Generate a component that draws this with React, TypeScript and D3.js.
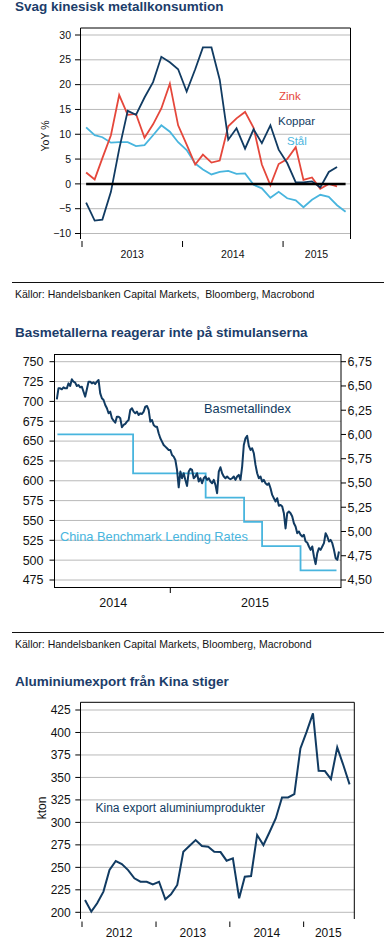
import * as React from "react";
import * as d3 from "d3";

const FONT = "'Liberation Sans', Arial, Helvetica, sans-serif";
const TITLE_COLOR = "#1c3d6a";
const NAVY = "#113b62";
const RED = "#e5473b";
const SKY = "#48b5de";
const GRID = "#b9b9b9";
const SOURCE_COLOR = "#141414";

// --- chart 1: YoY %, monthly, first point Jan 2013
const metalStart = new Date(2013, 0, 16);
const koppar = [-3.8, -7.4, -7.2, -1.6, 7.0, 14.7, 13.9, 17.4, 20.5, 25.6, 24.5, 23.1, 18.6, 23.1, 27.5, 27.5,
  21.0, 8.9, 11.2, 7.1, 11.0, 8.2, 11.8, 6.9, 4.2, 0.3, 0.3, 0.5, -0.7, 2.4, 3.4];
const zink = [2.3, 0.9, 5.2, 9.8, 17.9, 13.9, 14.1, 9.3, 12.0, 15.2, 20.2, 11.8, 7.9, 3.9, 5.9, 4.3,
  4.7, 11.6, 13.2, 14.5, 11.3, 3.9, -0.3, 4.0, 5.0, 7.4, 0.8, 1.3, -1.0, 0.0, -0.5];
const stal = [11.4, 9.8, 9.4, 8.3, 8.4, 8.4, 7.6, 7.8, 9.8, 11.8, 10.5, 8.4, 6.8, 4.1, 2.9, 1.9,
  2.4, 2.6, 2.0, 2.1, -0.2, -0.9, -2.8, -1.6, -2.9, -3.3, -4.7, -3.2, -2.2, -2.6, -4.3, -5.6];
const yoyTicks = [-10, -5, 0, 5, 10, 15, 20, 25, 30];
const years1 = [2013, 2014, 2015];

// --- chart 2: base metal index (left) and lending rate (right)
const basStart = new Date(2014, 6, 2);
const basEnd = new Date(2015, 8, 30);
const basmetall = [702.6, 716.4, 716.4, 715.2, 717.7, 716.4, 716.4, 722.7, 719.4, 727.8,
  724.8, 723.6, 719.4, 720.6, 717.7, 718.5, 712.2, 706.0, 715.2, 724.8,
  724.8, 722.7, 724.0, 721.9, 724.8, 726.9, 710.1, 703.9, 701.8, 695.5,
  691.3, 685.0, 687.1, 678.7, 675.7, 673.2, 680.8, 680.8, 678.7, 667.4,
  670.3, 671.6, 674.5, 676.6, 689.2, 691.3, 687.1, 685.0, 687.1, 682.9,
  685.0, 684.1, 687.1, 693.4, 694.2, 689.2, 674.5, 676.6, 670.3, 668.2,
  668.2, 659.8, 653.5, 649.3, 645.1, 643.0, 640.9, 638.8, 638.8, 632.5,
  630.4, 626.2, 613.7, 591.8, 611.6, 603.2, 609.5, 601.1, 593.5, 611.6,
  615.0, 613.7, 603.2, 605.3, 609.5, 599.0, 603.2, 596.9, 603.2, 605.3,
  601.1, 603.2, 599.0, 596.9, 601.1, 594.8, 584.3, 611.6, 617.0, 609.5,
  605.3, 603.2, 605.3, 603.2, 601.9, 603.2, 605.3, 601.1, 605.3, 607.4,
  601.1, 617.9, 645.1, 653.5, 656.5, 643.9, 638.8, 640.9, 634.6, 620.0,
  609.5, 603.2, 605.3, 599.0, 601.1, 596.9, 594.8, 596.9, 590.6, 582.2,
  578.0, 573.8, 578.0, 568.4, 569.6, 567.5, 559.1, 540.0, 559.1, 561.2,
  559.1, 555.0, 546.5, 542.4, 534.0, 536.1, 531.9, 529.8, 531.9, 523.5,
  522.2, 517.2, 513.0, 517.2, 504.6, 495.0, 508.8, 515.1, 513.0, 517.2,
  521.4, 533.9, 529.8, 523.5, 525.6, 521.4, 513.0, 502.5, 500.4, 510.9];
const rateDates = [new Date(2014, 6, 3), new Date(2014, 10, 2), new Date(2015, 1, 27),
  new Date(2015, 3, 30), new Date(2015, 4, 29), new Date(2015, 6, 30), new Date(2015, 8, 26)];
const rates = [6.0, 5.6, 5.35, 5.1, 4.85, 4.6, 4.6];
const indexTicks = [475, 500, 525, 550, 575, 600, 625, 650, 675, 700, 725, 750];
const rateTicks = [4.5, 4.75, 5.0, 5.25, 5.5, 5.75, 6.0, 6.25, 6.5, 6.75];
const years2 = [2014, 2015];

// --- chart 3: aluminium export, kton, monthly from Jan 2012
const aluStart = new Date(2012, 0, 16);
const aluExport = [213.7, 200.7, 210, 223, 247, 257, 253.7, 247, 237.8, 234,
  234, 231, 234, 214.4, 220, 230.4, 267.4, 274, 280.4, 273.7,
  273, 267.4, 267, 257.4, 260, 215.6, 239.6, 240.4, 286, 274.8,
  289, 304.4, 327.8, 327.8, 331.5, 382.3, 400.9, 421.3, 357.5, 357.1,
  348.2, 383.4, 363.8, 342.3];
const ktonTicks = [200, 225, 250, 275, 300, 325, 350, 375, 400, 425];
const years3 = [2012, 2013, 2014, 2015];

const Title = (p: { y: number; text: string }) => (
  <text x={15} y={p.y} fontSize={13.5} fontWeight="bold" fill={TITLE_COLOR}>{p.text}</text>
);

const Source = (p: { y: number; text: string }) => (
  <g>
    <line x1={12} x2={384} y1={p.y} y2={p.y} stroke="#111" strokeWidth={1} />
    <text x={15} y={p.y + 15} fontSize={10.5} fill={SOURCE_COLOR} style={{ whiteSpace: "pre" }}>{p.text}</text>
  </g>
);

function yearLabels(x: d3.ScaleTime<number, number>, years: number[], axisStart: Date, axisEnd: Date) {
  return years.map((yr) => {
    const a = Math.max(+new Date(yr, 0, 1), +axisStart);
    const b = Math.min(+new Date(yr + 1, 0, 1), +axisEnd);
    return { yr, cx: (x(new Date(a)) + x(new Date(b))) / 2 };
  });
}

function Chart1() {
  const left = 80.5, right = 350.5, top = 28, bottom = 239;
  const axisStart = new Date(2013, 0, 1);
  const axisEnd = new Date(2015, 8, 1);
  const x = d3.scaleTime().domain([axisStart, axisEnd]).range([82, 350]);
  const y = d3.scaleLinear().domain([-10, 30]).range([233.5, 35]);
  const date = (i: number) => d3.timeMonth.offset(metalStart, i);
  const line = d3.line<number>().x((_, i) => x(date(i))).y((d) => y(d));
  const labels = yearLabels(x, years1, axisStart, axisEnd);
  return (
    <g>
      <Title y={11} text="Svag kinesisk metallkonsumtion" />
      {yoyTicks.map((t) => (
        <g key={t}>
          <line x1={left} x2={right} y1={y(t)} y2={y(t)} stroke={GRID} strokeWidth={1} />
          <line x1={75} x2={left} y1={y(t)} y2={y(t)} stroke="#000" strokeWidth={1} />
          <text x={71} y={y(t)} dy="0.35em" textAnchor="end" fontSize={10.5} fill="#111">
            {t < 0 ? "\u2212" + Math.abs(t) : t}
          </text>
        </g>
      ))}
      <path d={`M${left},${bottom}V${top}H${right}V${bottom}`} fill="none" stroke="#000" strokeWidth={1} />
      <text transform={`translate(45,136) rotate(-90)`} textAnchor="middle" dy="0.35em" fontSize={10.5} fill="#111">YoY %</text>
      <path d={line(stal) || ""} fill="none" stroke={SKY} strokeWidth={1.8} />
      <path d={line(zink) || ""} fill="none" stroke={RED} strokeWidth={1.8} />
      <path d={line(koppar) || ""} fill="none" stroke={NAVY} strokeWidth={1.8} />
      <line x1={x(date(0))} x2={x(date(stal.length - 1))} y1={y(0)} y2={y(0)} stroke="#000" strokeWidth={2.5} />
      <text x={279} y={99.5} fontSize={11.5} fill={RED}>Zink</text>
      <text x={278} y={124.5} fontSize={11.5} fill={NAVY}>Koppar</text>
      <text x={287} y={144.5} fontSize={11.5} fill={SKY}>Stål</text>
      {years1.map((yr) => (
        <line key={yr} x1={x(new Date(yr, 0, 1))} x2={x(new Date(yr, 0, 1))} y1={241} y2={247} stroke="#000" strokeWidth={1} />
      ))}
      {labels.map((l) => (
        <text key={l.yr} x={l.cx} y={258} textAnchor="middle" fontSize={10.5} fill="#111">{l.yr}</text>
      ))}
      <Source y={282.5} text="Källor: Handelsbanken Capital Markets,  Bloomberg, Macrobond" />
    </g>
  );
}

function Chart2() {
  const left = 54.5, right = 341, top = 354.5, bottom = 587.5;
  const axisStart = new Date(2014, 6, 1);
  const axisEnd = new Date(2015, 9, 1);
  const x = d3.scaleTime().domain([axisStart, axisEnd]).range([56.2, 339.6]);
  const y = d3.scaleLinear().domain([475, 750]).range([580, 361.7]);
  const y2 = d3.scaleLinear().domain([4.5, 6.75]).range([580, 361.7]);
  const step = (+basEnd - +basStart) / (basmetall.length - 1);
  const basLine = d3.line<number>().x((_, i) => x(new Date(+basStart + i * step))).y((d) => y(d));
  const rateLine = d3.line<number>().x((_, i) => x(rateDates[i])).y((d) => y2(d)).curve(d3.curveStepAfter);
  const labels = yearLabels(x, years2, axisStart, axisEnd);
  const fmt = d3.format(".2f");
  return (
    <g>
      <Title y={336.5} text="Basmetallerna reagerar inte på stimulanserna" />
      {indexTicks.map((t) => (
        <g key={t}>
          <line x1={left} x2={right} y1={y(t)} y2={y(t)} stroke={GRID} strokeWidth={1} />
          <line x1={49.5} x2={left} y1={y(t)} y2={y(t)} stroke="#000" strokeWidth={1} />
          <text x={43.5} y={y(t)} dy="0.35em" textAnchor="end" fontSize={12.5} fill="#111">{t}</text>
        </g>
      ))}
      {rateTicks.map((t) => (
        <g key={t}>
          <line x1={right} x2={346} y1={y2(t)} y2={y2(t)} stroke="#000" strokeWidth={1} />
          <text x={347.5} y={y2(t)} dy="0.35em" fontSize={12.5} fill="#111">{fmt(t).replace(".", ",")}</text>
        </g>
      ))}
      <rect x={left} y={top} width={right - left} height={bottom - top} fill="none" stroke="#000" strokeWidth={1} />
      <path d={rateLine(rates) || ""} fill="none" stroke={SKY} strokeWidth={1.8} />
      <path d={basLine(basmetall) || ""} fill="none" stroke={NAVY} strokeWidth={2} strokeLinejoin="round" />
      <text x={204} y={412.5} fontSize={12.8} fill={NAVY}>Basmetallindex</text>
      <text x={60} y={541} fontSize={12.8} fill={SKY}>China Benchmark Lending Rates</text>
      {years2.map((yr) => {
        const px = x(new Date(yr, 0, 1));
        return px > left ? <line key={yr} x1={px} x2={px} y1={bottom} y2={593} stroke="#000" strokeWidth={1} /> : null;
      })}
      {labels.map((l) => (
        <text key={l.yr} x={l.cx} y={607} textAnchor="middle" fontSize={12.5} fill="#111">{l.yr}</text>
      ))}
      <Source y={632.5} text="Källor: Handelsbanken Capital Markets, Bloomberg, Macrobond" />
    </g>
  );
}

function Chart3() {
  const left = 80.5, right = 354.3, top = 702.3, bottom = 919;
  const axisStart = new Date(2012, 0, 1);
  const axisEnd = new Date(2015, 8, 1);
  const x = d3.scaleTime().domain([axisStart, axisEnd]).range([82, 352.8]);
  const y = d3.scaleLinear().domain([200, 425]).range([912.3, 710]);
  const line = d3.line<number>().x((_, i) => x(d3.timeMonth.offset(aluStart, i))).y((d) => y(d));
  const labels = yearLabels(x, years3, axisStart, axisEnd);
  return (
    <g>
      <Title y={685.5} text="Aluminiumexport från Kina stiger" />
      {ktonTicks.map((t) => (
        <g key={t}>
          <line x1={left} x2={right} y1={y(t)} y2={y(t)} stroke={GRID} strokeWidth={1} />
          <line x1={75.3} x2={left} y1={y(t)} y2={y(t)} stroke="#000" strokeWidth={1} />
          <text x={70.7} y={y(t)} dy="0.35em" textAnchor="end" fontSize={12} fill="#111">{t}</text>
        </g>
      ))}
      <path d={`M${left},${bottom}V${top}H${right}V${bottom}`} fill="none" stroke="#000" strokeWidth={1} />
      <text transform={`translate(42,808) rotate(-90)`} textAnchor="middle" dy="0.35em" fontSize={12} fill="#111">kton</text>
      <path d={line(aluExport) || ""} fill="none" stroke={NAVY} strokeWidth={2} />
      <text x={95.5} y={812} fontSize={12} fill={NAVY}>Kina export aluminiumprodukter</text>
      {years3.map((yr) => (
        <line key={yr} x1={x(new Date(yr, 0, 1))} x2={x(new Date(yr, 0, 1))} y1={921.5} y2={927} stroke="#000" strokeWidth={1} />
      ))}
      {labels.map((l) => (
        <text key={l.yr} x={l.cx} y={937} textAnchor="middle" fontSize={12} fill="#111">{l.yr}</text>
      ))}
    </g>
  );
}

export default function App() {
  return (
    <svg width={384} height={952} style={{ position: "absolute", left: 0, top: 0, background: "#fff" }} fontFamily={FONT}>
      <rect width={384} height={952} fill="#fff" />
      <Chart1 />
      <Chart2 />
      <Chart3 />
    </svg>
  );
}
